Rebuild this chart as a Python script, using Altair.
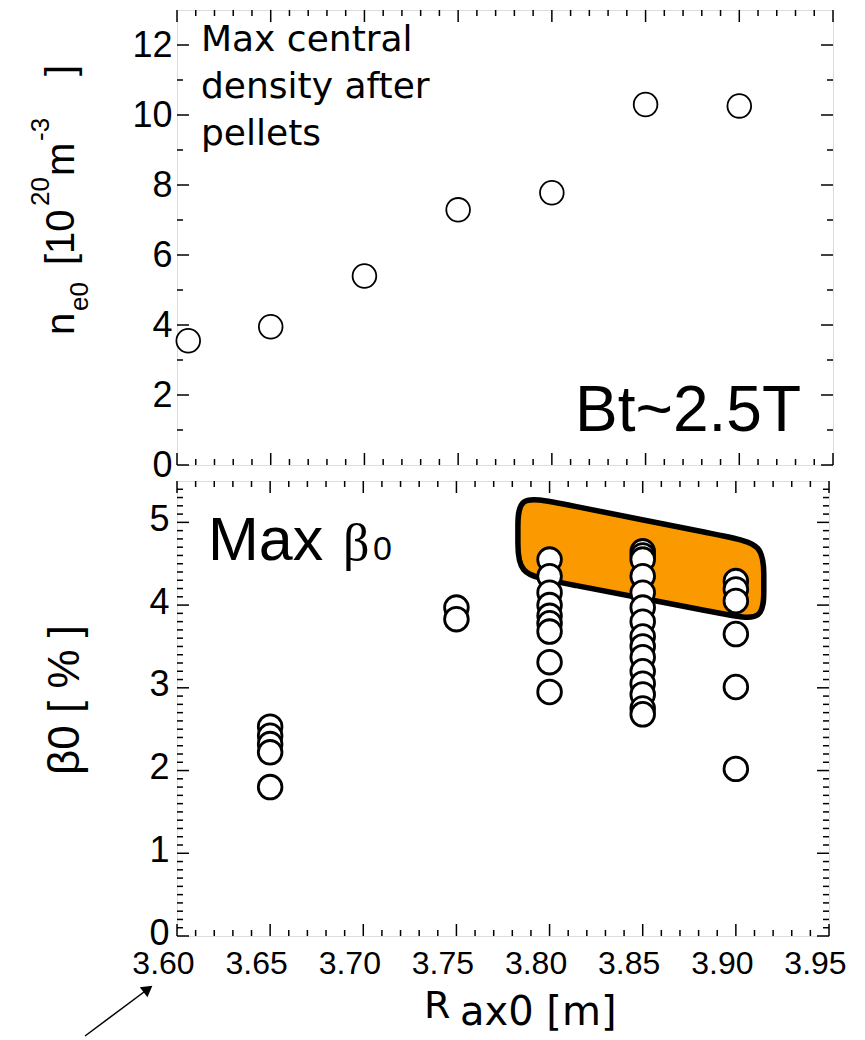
import altair as alt
import pandas as pd

# ---------------- data ----------------
# top panel: max central density after pellets
r_top = [3.606, 3.65, 3.70, 3.75, 3.80, 3.85, 3.90]
ne0_top = [3.55, 3.95, 5.40, 7.29, 7.78, 10.30, 10.26]

# bottom panel: beta_0 per magnetic axis position
beta_365 = [2.53, 2.42, 2.32, 2.22, 1.80]
beta_375 = [3.97, 3.83]
beta_380 = [4.55, 4.35, 4.15, 4.00, 3.87, 3.78, 3.68, 3.31, 2.95]
beta_385 = [4.65, 4.60, 4.55, 4.35, 4.15, 3.97, 3.80, 3.62, 3.50, 3.37,
            3.20, 3.05, 2.92, 2.75, 2.68]
beta_390 = [4.29, 4.19, 4.05, 3.65, 3.01, 2.02]

# highlight outline (control points of a rounded box, data units)
hl_x = [3.783, 3.783, 3.8019, 3.8961, 3.915, 3.915, 3.915, 3.915, 3.8961, 3.8019, 3.783, 3.783]
hl_y = [4.898, 5.33, 5.2474, 4.8226, 4.74, 4.317, 4.223, 3.80, 3.8798, 4.2902, 4.37, 4.802]

x_ticks = [3.60, 3.65, 3.70, 3.75, 3.80, 3.85, 3.90, 3.95]
x_minor = [round(3.60 + 0.01 * i, 2) for i in range(36) if i % 5 != 0]
y_top_ticks = [0, 2, 4, 6, 8, 10, 12]
y_top_minor = [1, 3, 5, 7, 9, 11]
y_bot_ticks = [0, 1, 2, 3, 4, 5]
y_bot_minor = [round(0.1 * i, 1) for i in range(55) if i % 10 != 0]

# ---------------- layout ----------------
W1, H1 = 656, 455
W2, H2 = 652, 455
LABEL_FONT = "Liberation Sans"

xs = alt.Scale(domain=[3.60, 3.95], nice=False, zero=False)
ys1 = alt.Scale(domain=[0, 13], nice=False, zero=True)
ys2 = alt.Scale(domain=[0, 5.5], nice=False, zero=True)

ax_y_top = alt.Axis(values=y_top_ticks, title=None, labelFontSize=36, labelFont=LABEL_FONT,
                    labelPadding=5, ticks=False, domain=False, grid=False, labelColor="black")
ax_y_bot = alt.Axis(values=y_bot_ticks, title=None, labelFontSize=36, labelFont=LABEL_FONT,
                    labelPadding=8, labelOffset=-3, ticks=False, domain=False, grid=False,
                    labelColor="black")
ax_x_bot = alt.Axis(values=x_ticks, format=".2f", title=None, labelFontSize=32, labelFont=LABEL_FONT,
                    labelPadding=12, labelOffset=-14, ticks=False, domain=False, grid=False,
                    labelColor="black", labelFlush=False, labelOverlap=False)


def tick_rules(vals, channel, scale, axis, side, length, W, H):
    df = pd.DataFrame({"v": vals})
    m = alt.Chart(df).mark_rule(color="black", strokeWidth=1.5)
    if channel == "x":
        enc = dict(x=alt.X("v:Q", scale=scale, axis=axis))
        if side == "bottom":
            enc.update(y=alt.value(H), y2=alt.value(H - length))
        else:
            enc.update(y=alt.value(0), y2=alt.value(length))
    else:
        enc = dict(y=alt.Y("v:Q", scale=scale, axis=axis))
        if side == "left":
            enc.update(x=alt.value(0), x2=alt.value(length))
        else:
            enc.update(x=alt.value(W), x2=alt.value(W - length))
    return m.encode(**enc)


def all_ticks(xmaj, xmin, xax, ymaj, ymin, ysc, yax, W, H):
    out = []
    for side in ("bottom", "top"):
        out.append(tick_rules(xmaj, "x", xs, xax, side, 12, W, H))
        out.append(tick_rules(xmin, "x", xs, xax, side, 6, W, H))
    for side in ("left", "right"):
        out.append(tick_rules(ymaj, "y", ysc, yax, side, 12, W, H))
        out.append(tick_rules(ymin, "y", ysc, yax, side, 6, W, H))
    return out


def txt(s, x, y, size, font=LABEL_FONT, angle=0, align="left", baseline="alphabetic"):
    return alt.Chart(pd.DataFrame({"t": [s]})).mark_text(
        font=font, fontSize=size, angle=angle, align=align, baseline=baseline, color="black"
    ).encode(text="t:N", x=alt.value(x), y=alt.value(y))


# ---------------- top panel ----------------
top_df = pd.DataFrame({"r": r_top, "ne": ne0_top})
top_pts = alt.Chart(top_df).mark_point(
    shape="circle", size=560, filled=False, fill="white", fillOpacity=1,
    stroke="black", strokeWidth=1.8, opacity=1
).encode(
    x=alt.X("r:Q", scale=xs, axis=None),
    y=alt.Y("ne:Q", scale=ys1, axis=ax_y_top),
)

top_texts = [
    txt("Max central", 24, 41, 36, font="DejaVu Sans"),
    txt("density after", 24, 88, 36, font="DejaVu Sans"),
    txt("pellets", 24, 135, 36, font="DejaVu Sans"),
    txt("Bt~2.5T", 624, 421, 64, align="right"),
    # rotated y title: n_e0 [10^20 m^-3 ]
    txt("n", -103, 325, 40, angle=270),
    txt("e0", -89, 301, 26, angle=270),
    txt("[10", -103, 255, 40, angle=270),
    txt("20", -128, 196, 26, angle=270),
    txt("m", -103, 166, 40, angle=270),
    txt("-3", -128, 131, 26, angle=270),
    txt("]", -103, 66, 40, angle=270),
]

top = alt.layer(
    top_pts,
    *all_ticks(x_ticks, x_minor, None, y_top_ticks, y_top_minor, ys1, ax_y_top, W1, H1),
    *top_texts
).properties(width=W1, height=H1)

# ---------------- bottom panel ----------------
rows = []
for r, vals in ((3.65, beta_365), (3.75, beta_375), (3.80, beta_380),
                (3.85, beta_385), (3.90, beta_390)):
    for v in vals:
        rows.append({"r": r, "b": v})
bot_df = pd.DataFrame(rows)

hl_df = pd.DataFrame({"x": hl_x, "y": hl_y, "i": list(range(len(hl_x)))})
highlight = alt.Chart(hl_df).mark_line(
    interpolate="basis-closed", fill="#FB9A00", fillOpacity=1,
    stroke="black", strokeWidth=5.5
).encode(
    x=alt.X("x:Q", scale=xs, axis=ax_x_bot),
    y=alt.Y("y:Q", scale=ys2, axis=ax_y_bot),
    order=alt.Order("i:Q"),
)

bot_pts = alt.Chart(bot_df).mark_point(
    shape="circle", size=560, filled=False, fill="white", fillOpacity=1,
    stroke="black", strokeWidth=2.8, opacity=1
).encode(
    x=alt.X("r:Q", scale=xs, axis=ax_x_bot),
    y=alt.Y("b:Q", scale=ys2, axis=ax_y_bot),
)

arrow_df = pd.DataFrame({"k": ["a"]})
arrow_line = alt.Chart(arrow_df).mark_rule(color="black", strokeWidth=1.5).encode(
    x=alt.value(-92), y=alt.value(555), x2=alt.value(-29), y2=alt.value(508)
)
arrow_head = alt.Chart(arrow_df).mark_point(
    shape="triangle-up", size=160, filled=True, color="black", angle=53, opacity=1
).encode(x=alt.value(-29), y=alt.value(508))

bot_texts = [
    txt("Max", 31, 79, 61),
    txt("β", 166, 79, 52, font="Liberation Serif"),
    txt("0", 196, 79, 34),
    txt("β0 [ % ]", -98, 294, 44, angle=270),
    txt("R", 247, 537, 38, font="DejaVu Sans"),
    txt("ax0 [m]", 283, 544, 40, font="DejaVu Sans"),
]

bottom = alt.layer(
    highlight,
    *all_ticks(x_ticks, x_minor, ax_x_bot, y_bot_ticks, y_bot_minor, ys2, ax_y_bot, W2, H2),
    bot_pts, *bot_texts, arrow_line, arrow_head
).properties(width=W2, height=H2)

chart = alt.vconcat(top, bottom, spacing=16, bounds="flush").properties(
    padding={"left": 19, "top": 0, "right": 5, "bottom": 0}
).configure_view(stroke="black", strokeWidth=3).configure(background="white")

chart.save("out.html", embed_options={"renderer": "svg", "actions": False})
